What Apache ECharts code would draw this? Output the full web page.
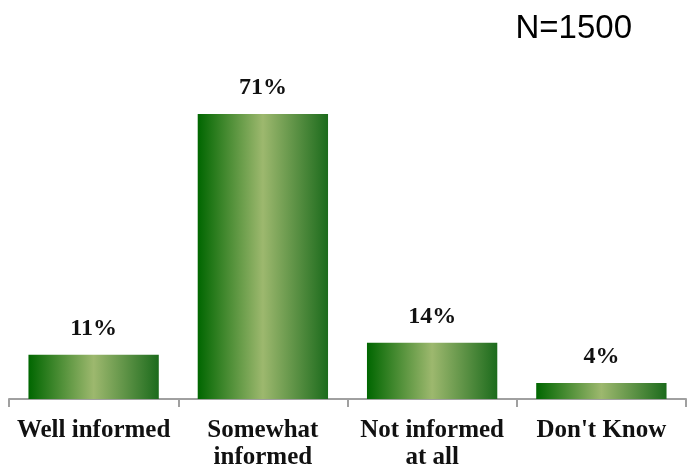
<!DOCTYPE html>
<html>
<head>
<meta charset="utf-8">
<script src="https://cdn.jsdelivr.net/npm/echarts@6/dist/echarts.min.js"></script>
<style>html,body{margin:0;padding:0;background:#fff}#c{width:687px;height:471px}</style>
</head>
<body>
<div id="c"></div>
<script>
const categories = ['Well informed', 'Somewhat\ninformed', 'Not informed\nat all', "Don't Know"];
const values = [11, 71, 14, 4];
const sampleLabel = 'N=1500';

const chart = echarts.init(document.getElementById('c'), null, {renderer: 'canvas'});
const grad = new echarts.graphic.LinearGradient(0, 0, 1, 0, [
  {offset: 0, color: '#006600'},
  {offset: 0.5, color: '#9db86e'},
  {offset: 1, color: '#1c6b1c'}
]);
chart.setOption({
  animation: false,
  title: {
    text: sampleLabel, right: 50, top: 7,
    textStyle: {fontFamily: 'Liberation Sans', fontWeight: 'normal', fontSize: 33, color: '#000'}
  },
  grid: {left: 9, right: 1, top: 78, bottom: 70, containLabel: false},
  xAxis: {
    type: 'category', data: categories,
    axisLine: {lineStyle: {color: '#a0a0a0', width: 2}},
    axisTick: {show: true, length: 8, lineStyle: {color: '#a0a0a0', width: 2}},
    axisLabel: {
      interval: 0, margin: 18, color: '#111',
      fontFamily: 'Liberation Serif', fontWeight: 'bold', fontSize: 25, lineHeight: 27
    }
  },
  yAxis: {type: 'value', min: 0, max: 80, show: false, splitLine: {show: false}},
  series: [{
    type: 'bar', data: values, barWidth: '77%',
    itemStyle: {color: grad},
    label: {
      show: true, position: 'top', distance: 14, formatter: '{c}%',
      fontFamily: 'Liberation Serif', fontWeight: 'bold', fontSize: 24, color: '#111'
    }
  }]
});
</script>
</body>
</html>
